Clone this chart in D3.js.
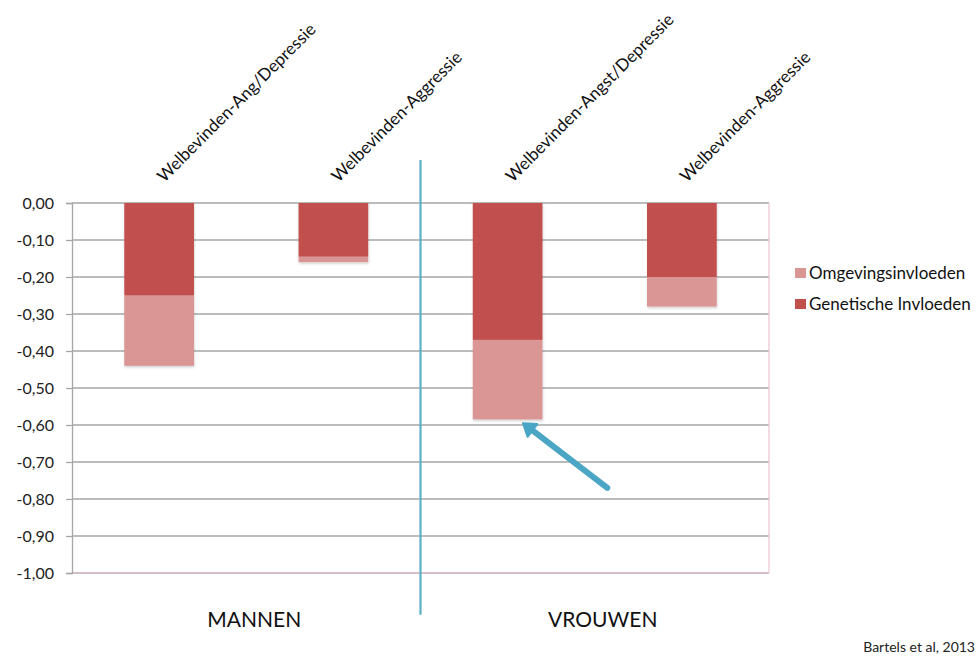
<!DOCTYPE html>
<html>
<head>
<meta charset="utf-8">
<script src="https://cdn.jsdelivr.net/npm/d3@7"></script>
<style>
  body { margin: 0; background: #fff; }
  svg { font-family: Lato, "Open Sans", sans-serif; }
</style>
</head>
<body>
<svg width="980" height="663"></svg>
<script>
// data
let categories = [
  "Welbevinden-Ang/Depressie",
  "Welbevinden-Aggressie",
  "Welbevinden-Angst/Depressie",
  "Welbevinden-Aggressie "
];
let groups = ["MANNEN", "VROUWEN"];
let group_of = [0, 0, 1, 1];
let genetisch = [-0.25, -0.145, -0.37, -0.2];
let omgeving = [-0.19, -0.015, -0.215, -0.08];
let series_names = ["Omgevingsinvloeden", "Genetische Invloeden"];
let y_ticks = [0, -0.1, -0.2, -0.3, -0.4, -0.5, -0.6, -0.7, -0.8, -0.9, -1.0];
let source_text = "Bartels et al, 2013";

var margin = { top: 203, right: 211, bottom: 90, left: 72 };
let width = 980 - margin.left - margin.right;
let height = 663 - margin.top - margin.bottom;

let colors = { gen: "#c0504d", omg: "#d99694" };

var xScale = d3
  .scaleBand()
  .domain(categories)
  .range([0, width])
  .paddingInner(0.6)
  .paddingOuter(0.3);
var yScale = d3.scaleLinear().domain([-1, 0]).range([height, 0]);

let fmt = d => d3.format(".2f")(d).replace(".", ",").replace("−", "-");

var svg = d3
  .select("svg")
  .append("g")
  .attr("transform", "translate(" + margin.left + "," + margin.top + ")");

// soft shadow like the original export
let defs = d3.select("svg").append("defs");
let f = defs.append("filter").attr("id", "shadow").attr("x", "-10%").attr("y", "-10%").attr("width", "130%").attr("height", "130%");
f.append("feDropShadow")
  .attr("dx", 0.5)
  .attr("dy", 1.5)
  .attr("stdDeviation", 1.2)
  .attr("flood-color", "#000")
  .attr("flood-opacity", 0.18);

// gridlines
svg
  .append("g")
  .selectAll("line")
  .data(y_ticks)
  .enter()
  .append("line")
  .attr("x1", 0)
  .attr("x2", width)
  .attr("y1", d => yScale(d))
  .attr("y2", d => yScale(d))
  .attr("stroke", d => (d === -1 ? "#c9a9b2" : "#a6a6a6"))
  .attr("stroke-width", 1.3);

// right border of the plot
svg
  .append("line")
  .attr("x1", width)
  .attr("x2", width)
  .attr("y1", 0)
  .attr("y2", height)
  .attr("stroke", "#ecc9d3")
  .attr("stroke-width", 1.3);

// y axis
var yAxis = d3
  .axisLeft(yScale)
  .tickValues(y_ticks)
  .tickSize(6)
  .tickPadding(12)
  .tickFormat(fmt);

let ya = svg.append("g").attr("class", "y axis").call(yAxis);
ya.select(".domain").attr("stroke", "#a6a6a6").attr("stroke-width", 1.3);
ya.selectAll(".tick line").attr("stroke", "#a6a6a6").attr("stroke-width", 1.3);
ya.selectAll(".tick text")
  .attr("font-size", "16px")
  .attr("font-family", "Lato, sans-serif")
  .attr("fill", "#222");

// stacked bars
let stacked = categories.map((c, i) => ({
  cat: c,
  gen: genetisch[i],
  omg: omgeving[i]
}));

let bars = svg
  .selectAll(".bar_g")
  .data(stacked)
  .enter()
  .append("g")
  .attr("class", "bar_g")
  .attr("filter", "url(#shadow)");

bars
  .append("rect")
  .attr("x", d => xScale(d.cat))
  .attr("width", xScale.bandwidth())
  .attr("y", d => yScale(d.gen))
  .attr("height", d => yScale(d.gen + d.omg) - yScale(d.gen))
  .attr("fill", colors.omg);

bars
  .append("rect")
  .attr("x", d => xScale(d.cat))
  .attr("width", xScale.bandwidth())
  .attr("y", yScale(0))
  .attr("height", d => yScale(d.gen) - yScale(0))
  .attr("fill", colors.gen);

// category labels on top, rotated
svg
  .append("g")
  .selectAll("text")
  .data(categories)
  .enter()
  .append("text")
  .attr(
    "transform",
    d =>
      "translate(" + (xScale(d) + xScale.bandwidth() / 2 + 5) + "," + -20 + ") rotate(-45)"
  )
  .attr("font-size", "17px")
  .attr("fill", "#111")
  .text(d => d.trim());

// divider between the two groups
let step = xScale.step();
let divX = xScale(categories[2]) - (step - xScale.bandwidth()) / 2;
svg
  .append("line")
  .attr("x1", divX)
  .attr("x2", divX)
  .attr("y1", yScale(0.116))
  .attr("y2", yScale(-1.113))
  .attr("stroke", "#5bb0c9")
  .attr("stroke-width", 2.2);

// group labels
svg
  .append("g")
  .selectAll("text")
  .data(groups)
  .enter()
  .append("text")
  .attr("x", (g, gi) => {
    let cs = categories.filter((c, i) => group_of[i] === gi);
    return d3.mean(cs, c => xScale(c) + xScale.bandwidth() / 2) + 8;
  })
  .attr("y", height + 54)
  .attr("text-anchor", "middle")
  .attr("font-size", "21px")
  .attr("fill", "#111")
  .text(d => d);

// arrow pointing at the tall VROUWEN bar
let arrow = {
  tipX: xScale(categories[2]) + xScale.bandwidth() * 0.72,
  tipY: yScale(-0.595),
  tailX: xScale(categories[2]) + xScale.bandwidth() * 1.93,
  tailY: yScale(-0.77)
};
let ang = Math.atan2(arrow.tipY - arrow.tailY, arrow.tipX - arrow.tailX);
let headLen = 12, headW = 8;
let bx = arrow.tipX - headLen * Math.cos(ang);
let by = arrow.tipY - headLen * Math.sin(ang);
svg
  .append("line")
  .attr("x1", arrow.tailX)
  .attr("y1", arrow.tailY)
  .attr("x2", bx)
  .attr("y2", by)
  .attr("stroke", "#4aa6c4")
  .attr("stroke-width", 6)
  .attr("stroke-linecap", "round");
svg
  .append("path")
  .attr(
    "d",
    d3.line()([
      [arrow.tipX, arrow.tipY],
      [bx + headW * Math.sin(ang), by - headW * Math.cos(ang)],
      [bx - headW * Math.sin(ang), by + headW * Math.cos(ang)]
    ]) + "Z"
  )
  .attr("fill", "#4aa6c4")
  .attr("stroke", "#4aa6c4")
  .attr("stroke-linejoin", "round")
  .attr("stroke-width", 2);

// legend
let legend = svg
  .append("g")
  .attr("transform", "translate(" + (width + 26) + "," + (yScale(-0.2) - 9) + ")");
let legendColors = [colors.omg, colors.gen];
let li = legend
  .selectAll("g")
  .data(series_names)
  .enter()
  .append("g")
  .attr("transform", (d, i) => "translate(0," + i * 31 + ")");
li.append("rect")
  .attr("width", 11)
  .attr("height", 10)
  .attr("y", 0)
  .attr("fill", (d, i) => legendColors[i]);
li.append("text")
  .attr("x", 14)
  .attr("y", 11)
  .attr("font-size", "17px")
  .attr("fill", "#111")
  .text(d => d);

// source
d3.select("svg")
  .append("text")
  .attr("x", 975)
  .attr("y", 652)
  .attr("text-anchor", "end")
  .attr("font-size", "14px")
  .attr("fill", "#222")
  .text(source_text);
</script>
</body>
</html>
